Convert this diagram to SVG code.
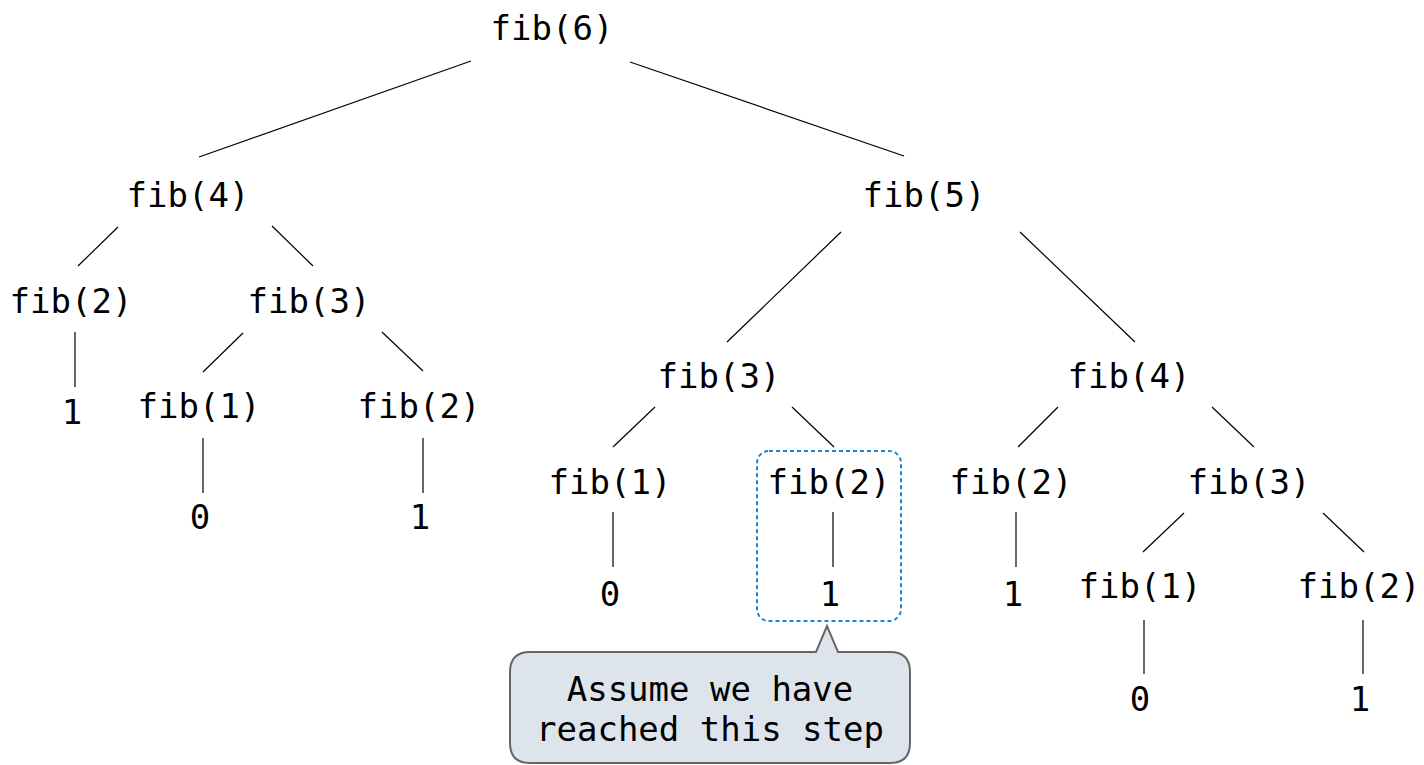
<svg xmlns="http://www.w3.org/2000/svg" width="1424" height="765" viewBox="0 0 1424 765">
<style>
text{font-family:"DejaVu Sans Mono","Liberation Mono",monospace;font-size:34px;fill:#000;text-anchor:middle}
.c line{stroke:#000;stroke-width:1.2}
</style>
<rect width="1424" height="765" fill="#fff"/>
<g class="c" id="connectors">
<line x1="471" y1="61" x2="199" y2="157"/>
<line x1="630" y1="62" x2="904" y2="156"/>
<line x1="118" y1="227" x2="78" y2="266"/>
<line x1="272" y1="226" x2="313" y2="266"/>
<line x1="75" y1="332" x2="75" y2="387"/>
<line x1="243" y1="333" x2="203" y2="372"/>
<line x1="382" y1="332" x2="423" y2="371"/>
<line x1="203" y1="438" x2="203" y2="493"/>
<line x1="423" y1="438" x2="423" y2="493"/>
<line x1="841" y1="232" x2="727" y2="342"/>
<line x1="1020" y1="232" x2="1135" y2="342"/>
<line x1="655" y1="407" x2="613" y2="447"/>
<line x1="792" y1="407" x2="834" y2="447"/>
<line x1="613" y1="512" x2="613" y2="567"/>
<line x1="833" y1="512" x2="833" y2="567"/>
<line x1="1058" y1="407" x2="1018" y2="447"/>
<line x1="1212" y1="407" x2="1254" y2="447"/>
<line x1="1016" y1="512" x2="1016" y2="567"/>
<line x1="1184" y1="513" x2="1143" y2="552"/>
<line x1="1323" y1="513" x2="1364" y2="552"/>
<line x1="1144" y1="620" x2="1144" y2="674"/>
<line x1="1363" y1="620" x2="1363" y2="674"/>
</g>
<g id="n-fib6"><text x="552" y="40">fib(6)</text></g>
<g id="n-fib4a"><text x="188" y="207">fib(4)</text></g>
<g id="n-fib5"><text x="924" y="207">fib(5)</text></g>
<g id="n-fib2a"><text x="71" y="313">fib(2)</text></g>
<g id="n-fib3a"><text x="309" y="313">fib(3)</text></g>
<g id="n-1a"><text x="72" y="424">1</text></g>
<g id="n-fib1a"><text x="199" y="418">fib(1)</text></g>
<g id="n-fib2b"><text x="419" y="418">fib(2)</text></g>
<g id="n-0a"><text x="200" y="529">0</text></g>
<g id="n-1b"><text x="420" y="529">1</text></g>
<g id="n-fib3b"><text x="719" y="388">fib(3)</text></g>
<g id="n-fib4b"><text x="1129" y="388">fib(4)</text></g>
<g id="n-fib1b"><text x="610" y="494">fib(1)</text></g>
<g id="n-fib2c"><text x="829" y="494">fib(2)</text></g>
<g id="n-fib2d"><text x="1011" y="494">fib(2)</text></g>
<g id="n-fib3c"><text x="1249" y="494">fib(3)</text></g>
<g id="n-0b"><text x="610" y="606">0</text></g>
<g id="n-1c"><text x="830" y="606">1</text></g>
<g id="n-1d"><text x="1013" y="606">1</text></g>
<g id="n-fib1c"><text x="1140" y="598">fib(1)</text></g>
<g id="n-fib2e"><text x="1359" y="598">fib(2)</text></g>
<g id="n-0c"><text x="1140" y="711">0</text></g>
<g id="n-1e"><text x="1360" y="711">1</text></g>
<g id="highlight"><rect x="757" y="451" width="144" height="170" rx="12" fill="none" stroke="#1a87d6" stroke-width="2" stroke-dasharray="4 3"/></g>
<g id="callout">
<path d="M530,652 H816 L827,626 L838,652 H890 Q910,652 910,672 V743 Q910,763 890,763 H530 Q510,763 510,743 V672 Q510,652 530,652 Z" fill="#dde4ec" stroke="#666" stroke-width="2"/>
<text x="710" y="701">Assume we have</text>
<text x="710" y="741">reached this step</text>
</g>
</svg>
